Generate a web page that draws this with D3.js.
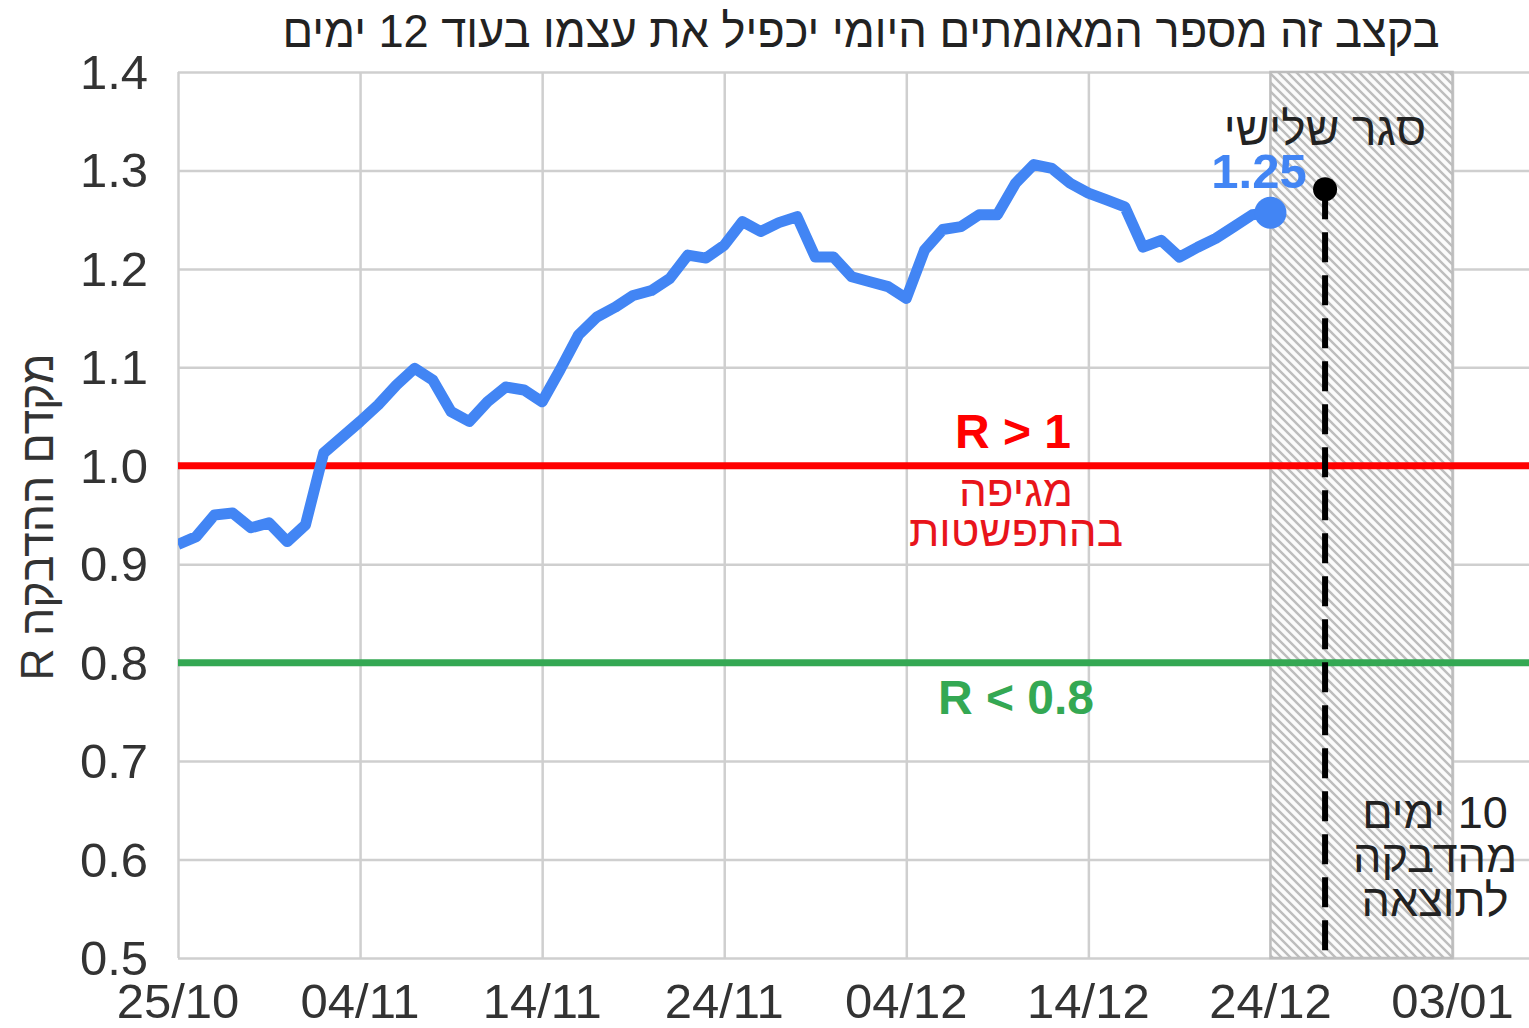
<!DOCTYPE html>
<html>
<head>
<meta charset="utf-8">
<script src="https://cdn.jsdelivr.net/npm/d3@7"></script>
<style>
  html, body { margin: 0; padding: 0; background: #fff; }
  svg { display: block; }
  text { font-family: 'Liberation Sans', Arial, sans-serif; }
</style>
</head>
<body>
<div id="chart"></div>
<script>
// daily R values starting 25/10/2020
const startDate = '2020-10-25';
const rValues = [
  0.920, 0.928, 0.950, 0.952, 0.937, 0.942, 0.923, 0.940, 1.013, 1.029,
  1.045, 1.062, 1.082, 1.099, 1.087, 1.055, 1.045, 1.065, 1.080, 1.077,
  1.065, 1.098, 1.133, 1.151, 1.161, 1.173, 1.178, 1.190, 1.214, 1.211,
  1.224, 1.248, 1.238, 1.247, 1.253, 1.212, 1.212, 1.192, 1.187, 1.182,
  1.170, 1.219, 1.240, 1.243, 1.255, 1.255, 1.287, 1.306, 1.302, 1.287,
  1.277, 1.270, 1.263, 1.222, 1.229, 1.212, 1.222, 1.231, 1.243, 1.255,
  1.257
];
const lastValueLabel = '1.25';
const xTickDates = ['2020-10-25', '2020-11-04', '2020-11-14', '2020-11-24', '2020-12-04', '2020-12-14', '2020-12-24', '2021-01-03'];
const yTickValues = [0.5, 0.6, 0.7, 0.8, 0.9, 1.0, 1.1, 1.2, 1.3, 1.4];
const thresholdHigh = 1.0;
const thresholdLow = 0.8;
const delayWindow = ['2020-12-24', '2021-01-03'];
const lockdownDate = '2020-12-27';
const lockdownMarkerValue = 1.281;

const title = 'בקצב זה מספר המאומתים היומי יכפיל את עצמו בעוד 12 ימים';
const yTitle = 'מקדם ההדבקה R';
const highLabel = 'R > 1';
const highNote = ['מגיפה', 'בהתפשטות'];
const lowLabel = 'R < 0.8';
const lockdownLabel = 'סגר שלישי';
const delayNote = ['10 ימים', 'מהדבקה', 'לתוצאה'];

const W = 1529, H = 1028;
const margin = {top: 72, right: 0, bottom: 70, left: 178};
const parse = d3.utcParse('%Y-%m-%d');
const t0 = parse(startDate);
const points = rValues.map((v, i) => ({date: d3.utcDay.offset(t0, i), value: v}));

const svg = d3.select('#chart').append('svg')
  .attr('width', W).attr('height', H);

const x = d3.scaleUtc()
  .domain([t0, new Date(t0.getTime() + 74.2 * 864e5)])
  .range([margin.left, W - margin.right]);
const y = d3.scaleLinear()
  .domain([0.5, 1.4])
  .range([H - margin.bottom, margin.top]);

function label(x0, y0, txt, opts) {
  const o = Object.assign({size: 49, weight: 'normal', fill: '#333', anchor: 'middle'}, opts || {});
  return svg.append('text')
    .attr('x', x0).attr('y', y0)
    .attr('direction', 'rtl')
    .attr('text-anchor', o.anchor)
    .attr('font-size', o.size)
    .attr('font-weight', o.weight)
    .attr('fill', o.fill)
    .text(txt);
}

// hatch pattern
const defs = svg.append('defs');
const pat = defs.append('pattern')
  .attr('id', 'hatch').attr('patternUnits', 'userSpaceOnUse')
  .attr('width', 9).attr('height', 9);
pat.append('rect').attr('width', 9).attr('height', 9).attr('fill', '#fbfbfb');
pat.append('path')
  .attr('d', 'M0,0 L9,9 M-3,6 L3,12 M6,-3 L12,3')
  .attr('stroke', '#bdbdbd').attr('stroke-width', 2.4);

// grid
svg.append('g')
  .attr('transform', `translate(${margin.left},0)`)
  .call(d3.axisLeft(y).tickValues(yTickValues).tickSize(-(W - margin.left)).tickFormat(''))
  .call(g => g.select('.domain').remove())
  .call(g => g.selectAll('line').attr('stroke', '#cfcfcf').attr('stroke-width', 2.5));

svg.append('g')
  .attr('transform', `translate(0,${H - margin.bottom})`)
  .call(d3.axisBottom(x).tickValues(xTickDates.map(parse)).tickSize(-(H - margin.bottom - margin.top)).tickFormat(''))
  .call(g => g.select('.domain').remove())
  .call(g => g.selectAll('line').attr('stroke', '#cfcfcf').attr('stroke-width', 2.5));

// shaded delay window
svg.append('rect')
  .attr('x', x(parse(delayWindow[0])))
  .attr('y', y(1.4))
  .attr('width', x(parse(delayWindow[1])) - x(parse(delayWindow[0])))
  .attr('height', y(0.5) - y(1.4))
  .attr('fill', 'url(#hatch)')
  .attr('stroke', '#bdbdbd').attr('stroke-width', 2.5);

// threshold lines
svg.append('line')
  .attr('x1', margin.left).attr('x2', W)
  .attr('y1', y(thresholdHigh)).attr('y2', y(thresholdHigh))
  .attr('stroke', '#ff0000').attr('stroke-width', 7);
svg.append('line')
  .attr('x1', margin.left).attr('x2', W)
  .attr('y1', y(thresholdLow)).attr('y2', y(thresholdLow))
  .attr('stroke', '#34a853').attr('stroke-width', 7);

// lockdown marker
const lx = x(parse(lockdownDate));
svg.append('line')
  .attr('x1', lx).attr('x2', lx)
  .attr('y1', y(lockdownMarkerValue)).attr('y2', y(0.5))
  .attr('stroke', '#000').attr('stroke-width', 6)
  .attr('stroke-dasharray', '30,13');
svg.append('circle')
  .attr('cx', lx).attr('cy', y(lockdownMarkerValue)).attr('r', 12)
  .attr('fill', '#000');

// R line
defs.append('clipPath').attr('id', 'plotclip').append('rect')
  .attr('x', margin.left).attr('y', 0).attr('width', W - margin.left).attr('height', H);
const line = d3.line().x(d => x(d.date)).y(d => y(d.value));
svg.append('path')
  .datum(points)
  .attr('clip-path', 'url(#plotclip)')
  .attr('fill', 'none')
  .attr('stroke', '#4285f4')
  .attr('stroke-width', 11)
  .attr('stroke-linejoin', 'round')
  .attr('d', line);
const last = points[points.length - 1];
svg.append('circle')
  .attr('cx', x(last.date)).attr('cy', y(last.value)).attr('r', 16)
  .attr('fill', '#4285f4');

// y tick labels
yTickValues.forEach(v => {
  label(148, y(v) + 17, d3.format('.1f')(v), {anchor: 'start'});
});
// x tick labels
xTickDates.forEach(s => {
  label(x(parse(s)), 1018, d3.utcFormat('%d/%m')(parse(s)));
});

// title
svg.append('text')
  .attr('x', 861).attr('y', 47)
  .attr('direction', 'rtl')
  .attr('text-anchor', 'middle')
  .attr('font-size', 47)
  .attr('fill', '#222')
  .attr('textLength', 1157).attr('lengthAdjust', 'spacingAndGlyphs')
  .text(title);

// y axis title
svg.append('text')
  .attr('transform', `translate(53,517) rotate(-90)`)
  .attr('direction', 'rtl')
  .attr('text-anchor', 'middle')
  .attr('font-size', 46)
  .attr('fill', '#333')
  .attr('textLength', 327).attr('lengthAdjust', 'spacingAndGlyphs')
  .text(yTitle);

// annotations
label(1013, 448, highLabel, {size: 48, weight: 'bold', fill: '#ff0000'});
label(1016, 506, highNote[0], {size: 44, fill: '#e8141b'});
label(1016, 546, highNote[1], {size: 44, fill: '#e8141b'});
label(1016, 714, lowLabel, {size: 48, weight: 'bold', fill: '#34a853'});
label(1259, 188, lastValueLabel, {size: 49, weight: 'bold', fill: '#4285f4'});
label(1325, 145, lockdownLabel, {size: 46, fill: '#222'});
delayNote.forEach((s, i) => {
  label(1435, 828 + i * 44, s, {size: 45, fill: '#222'});
});
</script>
</body>
</html>
